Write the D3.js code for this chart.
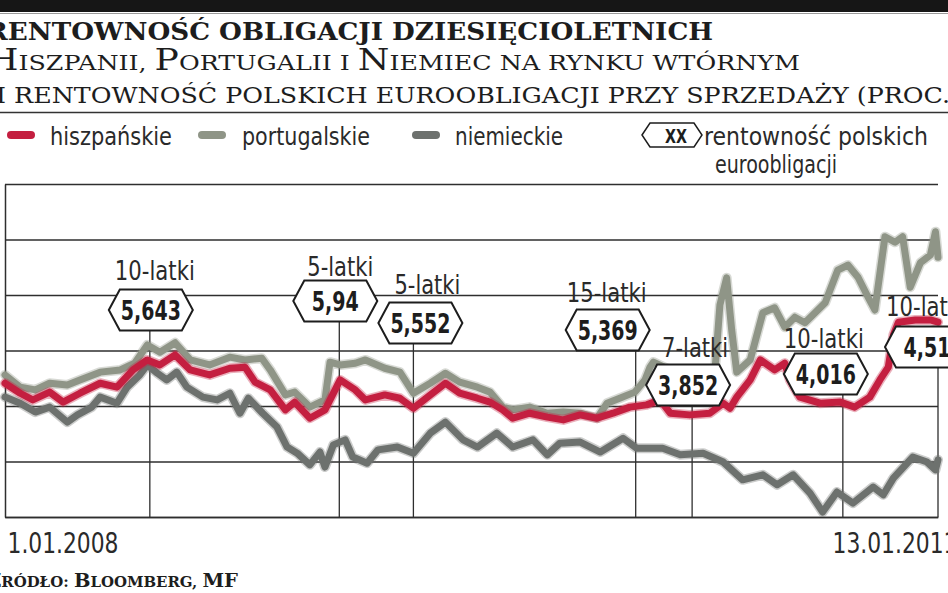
<!DOCTYPE html>
<html>
<head>
<meta charset="utf-8">
<script src="https://cdn.jsdelivr.net/npm/d3@7"></script>
<style>
  html, body { margin: 0; padding: 0; background: #fff; overflow: hidden; }
  svg { display: block; }
  .serif { font-family: "DejaVu Serif", "Liberation Serif", serif; }
  .sans { font-family: "DejaVu Sans", "Liberation Sans", sans-serif; font-stretch: condensed; }
</style>
</head>
<body>
<svg id="chart" width="948" height="593"></svg>
<script>
const red = "#c41f40";
const olive = "#8f9587";
const darkGray = "#6d716e";
const ink = "#1d1d1d";

// 10-year yields, %
const spanish = [
  ["2008-01-01", 4.41], ["2008-01-19", 4.23], ["2008-02-03", 4.11], ["2008-02-23", 4.25],
  ["2008-03-10", 4.07], ["2008-03-30", 4.23], ["2008-04-23", 4.41], ["2008-05-13", 4.34],
  ["2008-06-01", 4.65], ["2008-06-18", 4.83], ["2008-07-03", 4.74], ["2008-07-21", 4.92],
  ["2008-08-08", 4.65], ["2008-08-31", 4.56], ["2008-09-24", 4.68], ["2008-10-12", 4.70],
  ["2008-10-24", 4.43], ["2008-11-11", 4.29], ["2008-11-29", 3.93], ["2008-12-10", 4.07],
  ["2008-12-28", 3.78], ["2009-01-15", 3.93], ["2009-02-02", 4.47], ["2009-02-20", 4.29],
  ["2009-03-04", 4.11], ["2009-03-27", 4.20], ["2009-04-14", 4.14], ["2009-04-30", 3.96],
  ["2009-05-20", 4.20], ["2009-06-07", 4.41], ["2009-06-24", 4.23], ["2009-07-15", 4.14],
  ["2009-07-30", 4.07], ["2009-08-14", 3.93], ["2009-08-26", 3.78], ["2009-09-15", 3.87],
  ["2009-10-06", 3.80], ["2009-10-25", 3.75], ["2009-11-14", 3.84], ["2009-12-04", 3.78],
  ["2009-12-23", 3.87], ["2010-01-12", 3.98], ["2010-02-01", 4.02], ["2010-02-17", 4.11],
  ["2010-03-01", 3.87], ["2010-03-24", 3.84], ["2010-04-17", 3.87], ["2010-05-03", 4.05],
  ["2010-05-11", 3.96], ["2010-05-19", 4.16], ["2010-06-04", 4.47], ["2010-06-16", 4.83],
  ["2010-07-03", 4.65], ["2010-07-15", 4.77], ["2010-07-21", 4.47], ["2010-08-02", 4.16],
  ["2010-08-26", 4.05], ["2010-09-19", 4.07], ["2010-10-06", 3.98], ["2010-10-24", 4.16],
  ["2010-11-05", 4.47], ["2010-11-15", 4.70], ["2010-11-21", 5.28], ["2010-11-27", 5.51],
  ["2010-12-17", 5.55], ["2011-01-04", 5.55], ["2011-01-13", 5.51]
];

const portuguese = [
  ["2008-01-01", 4.56], ["2008-01-19", 4.34], ["2008-02-06", 4.29], ["2008-02-23", 4.41],
  ["2008-03-15", 4.38], ["2008-03-30", 4.47], ["2008-04-23", 4.61], ["2008-05-17", 4.65],
  ["2008-06-03", 4.77], ["2008-06-18", 5.10], ["2008-07-03", 4.97], ["2008-07-21", 5.14],
  ["2008-08-08", 4.83], ["2008-08-31", 4.74], ["2008-09-24", 4.88], ["2008-10-12", 4.83],
  ["2008-11-01", 4.86], ["2008-11-11", 4.65], ["2008-11-29", 4.20], ["2008-12-10", 4.25],
  ["2008-12-28", 3.98], ["2009-01-15", 4.11], ["2009-01-21", 4.79], ["2009-02-02", 4.74],
  ["2009-02-20", 4.77], ["2009-03-04", 4.83], ["2009-03-27", 4.68], ["2009-04-14", 4.61],
  ["2009-04-30", 4.23], ["2009-05-20", 4.41], ["2009-06-07", 4.59], ["2009-06-24", 4.43],
  ["2009-07-15", 4.34], ["2009-07-30", 4.25], ["2009-08-14", 3.98], ["2009-08-26", 3.93],
  ["2009-09-15", 3.98], ["2009-10-06", 3.87], ["2009-10-25", 3.89], ["2009-11-14", 3.87],
  ["2009-12-04", 3.78], ["2009-12-16", 4.05], ["2009-12-31", 4.14], ["2010-01-18", 4.25],
  ["2010-01-30", 4.47], ["2010-02-05", 4.70], ["2010-02-09", 4.79], ["2010-03-01", 4.65],
  ["2010-03-24", 4.59], ["2010-04-17", 4.65], ["2010-04-23", 4.61], ["2010-04-29", 5.82],
  ["2010-05-07", 6.31], ["2010-05-13", 5.37], ["2010-05-19", 4.61], ["2010-06-04", 4.83],
  ["2010-06-19", 5.68], ["2010-07-03", 5.77], ["2010-07-15", 5.42], ["2010-07-27", 5.60],
  ["2010-08-08", 5.50], ["2010-08-20", 5.68], ["2010-09-01", 5.86], ["2010-09-16", 6.45],
  ["2010-09-28", 6.54], ["2010-10-10", 6.32], ["2010-10-22", 5.96], ["2010-10-30", 5.73],
  ["2010-11-11", 7.05], ["2010-11-23", 6.95], ["2010-12-02", 7.05], ["2010-12-11", 6.14],
  ["2010-12-23", 6.58], ["2011-01-04", 6.72], ["2011-01-10", 7.14], ["2011-01-13", 6.68]
];

const german = [
  ["2008-01-01", 4.16], ["2008-01-19", 4.05], ["2008-02-06", 3.89], ["2008-02-23", 3.98],
  ["2008-03-15", 3.71], ["2008-03-27", 3.84], ["2008-04-13", 3.98], ["2008-04-23", 4.16],
  ["2008-05-13", 4.05], ["2008-05-25", 4.34], ["2008-06-09", 4.56], ["2008-06-18", 4.74],
  ["2008-06-30", 4.59], ["2008-07-11", 4.47], ["2008-07-23", 4.61], ["2008-08-04", 4.34],
  ["2008-08-23", 4.16], ["2008-09-09", 4.11], ["2008-09-24", 4.23], ["2008-10-06", 3.87],
  ["2008-10-16", 4.14], ["2008-11-02", 3.87], ["2008-11-19", 3.62], ["2008-12-01", 3.26],
  ["2008-12-13", 3.15], ["2008-12-28", 2.94], ["2009-01-09", 3.17], ["2009-01-15", 2.90],
  ["2009-01-25", 3.30], ["2009-02-08", 3.39], ["2009-02-17", 3.08], ["2009-03-06", 2.97],
  ["2009-03-19", 3.21], ["2009-04-11", 3.26], ["2009-04-30", 3.15], ["2009-05-20", 3.51],
  ["2009-06-07", 3.71], ["2009-06-28", 3.39], ["2009-07-15", 3.26], ["2009-08-07", 3.51],
  ["2009-08-26", 3.26], ["2009-09-19", 3.39], ["2009-10-06", 3.12], ["2009-10-21", 3.33],
  ["2009-11-14", 3.35], ["2009-12-08", 3.17], ["2010-01-04", 3.42], ["2010-01-20", 3.24],
  ["2010-02-20", 3.24], ["2010-03-13", 3.12], ["2010-04-09", 3.15], ["2010-05-03", 2.99],
  ["2010-05-26", 2.67], ["2010-06-19", 2.76], ["2010-07-06", 2.58], ["2010-07-25", 2.76],
  ["2010-08-14", 2.43], ["2010-08-29", 2.09], ["2010-09-15", 2.45], ["2010-10-04", 2.25],
  ["2010-10-28", 2.54], ["2010-11-09", 2.40], ["2010-11-21", 2.70], ["2010-12-14", 3.08],
  ["2010-12-31", 2.99], ["2011-01-10", 2.85], ["2011-01-13", 3.03]
];

// Polish eurobond sales
const bondDates = ["2008-06-21", "2009-02-01", "2009-04-30", "2010-01-19", "2010-03-27", "2010-09-22", "2011-01-13"];
const bondTenors = ["10-latki", "5-latki", "5-latki", "15-latki", "7-latki", "10-latki", "10-latki"];
const bondYields = ["5,643", "5,94", "5,552", "5,369", "3,852", "4,016", "4,51"];

const seriesNames = ["hiszpańskie", "portugalskie", "niemieckie"];
const yTicks = [2, 3, 4, 5, 6, 7, 8];
const dateRange = ["2008-01-01", "2011-01-13"];

// label placement (hexagon centre: dx from the sale line, y in px; tenor text offset)
const hexLayout = [
  { dx: 1, cy: 310, tdx: 4, tdy: -10 },
  { dx: -4, cy: 301, tdx: 5, tdy: -5 },
  { dx: 7, cy: 323, tdx: 7, tdy: -9 },
  { dx: -28, cy: 330, tdx: -1, tdy: -8 },
  { dx: -4, cy: 385, tdx: 7, tdy: -8 },
  { dx: -17, cy: 374, tdx: -2, tdy: -6 },
  { dx: -11, cy: 347, tdx: -1, tdy: -11 }
];

const parse = d3.timeParse("%Y-%m-%d");
const svg = d3.select("#chart");

const plotLeft = 5, plotRight = 938, plotTop = 184, plotBottom = 517;

const x = d3.scaleTime().domain(dateRange.map(parse)).range([plotLeft, plotRight]);
const y = d3.scaleLinear().domain([2, 8]).range([plotBottom, plotTop]);

// header
svg.append("rect").attr("x", 0).attr("y", 0).attr("width", 948).attr("height", 12).attr("fill", "#161616");
svg.append("line").attr("x1", 0).attr("x2", 948).attr("y1", 13.5).attr("y2", 13.5).attr("stroke", "#9a9a9a").attr("stroke-width", 1);

svg.append("text").attr("class", "serif")
  .attr("x", -14).attr("y", 40)
  .attr("font-size", 25).attr("font-weight", "bold").attr("fill", ink)
  .attr("textLength", 727).attr("lengthAdjust", "spacingAndGlyphs")
  .text("RENTOWNOŚĆ OBLIGACJI DZIESIĘCIOLETNICH");

const line2 = [["H", 30], ["ISZPANII,  ", 21], ["P", 30], ["ORTUGALII I ", 21], ["N", 30], ["IEMIEC NA RYNKU WTÓRNYM", 21]];
const t2 = svg.append("text").attr("class", "serif")
  .attr("x", -13).attr("y", 70).attr("fill", ink)
  .attr("textLength", 813).attr("lengthAdjust", "spacingAndGlyphs");
line2.forEach(([s, size]) => t2.append("tspan").attr("font-size", size).text(s));

svg.append("text").attr("class", "serif")
  .attr("x", -4).attr("y", 103)
  .attr("font-size", 23).attr("fill", ink)
  .attr("textLength", 964).attr("lengthAdjust", "spacingAndGlyphs")
  .text("I RENTOWNOŚĆ POLSKICH EUROOBLIGACJI PRZY SPRZEDAŻY (PROC.)");

svg.append("line").attr("x1", 0).attr("x2", 948).attr("y1", 112.5).attr("y2", 112.5).attr("stroke", "#333").attr("stroke-width", 1.5);

// legend
const colors = [red, olive, darkGray];
const legendLayout = [
  { sx: 11, tx: 50, tl: 122 },
  { sx: 202, tx: 242, tl: 128 },
  { sx: 416, tx: 455, tl: 108 }
];
seriesNames.forEach((name, i) => {
  const l = legendLayout[i];
  svg.append("line")
    .attr("x1", l.sx).attr("x2", l.sx + 20).attr("y1", 135).attr("y2", 135)
    .attr("stroke", colors[i]).attr("stroke-width", 8).attr("stroke-linecap", "round");
  svg.append("text").attr("class", "sans")
    .attr("x", l.tx).attr("y", 145).attr("font-size", 24).attr("fill", "#2a2a2a")
    .attr("textLength", l.tl).attr("lengthAdjust", "spacingAndGlyphs")
    .text(name);
});

const hexPath = (w, h, inset) => {
  const hw = w / 2, hh = h / 2;
  return `M${-hw},0 L${-hw + inset},${-hh} L${hw - inset},${-hh} L${hw},0 L${hw - inset},${hh} L${-hw + inset},${hh} Z`;
};

const legendHex = svg.append("g").attr("transform", "translate(672,135)");
legendHex.append("path").attr("d", hexPath(60, 24, 8)).attr("fill", "#fff").attr("stroke", ink).attr("stroke-width", 1.5);
legendHex.append("text").attr("class", "sans").attr("x", 4).attr("y", 8)
  .attr("text-anchor", "middle").attr("font-size", 20).attr("font-weight", "bold").attr("fill", ink)
  .attr("textLength", 22).attr("lengthAdjust", "spacingAndGlyphs").text("XX");
svg.append("text").attr("class", "sans")
  .attr("x", 704).attr("y", 145).attr("font-size", 24).attr("fill", "#2a2a2a")
  .attr("textLength", 224).attr("lengthAdjust", "spacingAndGlyphs")
  .text("rentowność polskich");
svg.append("text").attr("class", "sans")
  .attr("x", 715).attr("y", 173).attr("font-size", 24).attr("fill", "#2a2a2a")
  .attr("textLength", 122).attr("lengthAdjust", "spacingAndGlyphs")
  .text("euroobligacji");

// grid
const grid = svg.append("g")
  .attr("transform", `translate(${plotLeft},0)`)
  .call(d3.axisLeft(y).tickValues(yTicks).tickSize(-(plotRight - plotLeft)).tickSizeOuter(0).tickFormat(""));
grid.selectAll(".tick line").attr("stroke", "#2e2e2e").attr("stroke-width", 1.3);
grid.select(".domain").attr("stroke", "#2e2e2e").attr("stroke-width", 1.5);

// x axis
const fmt = d3.timeFormat("%-d.%m.%Y");
const xAxis = svg.append("g")
  .attr("transform", `translate(0,${plotBottom})`)
  .call(d3.axisBottom(x).tickValues(dateRange.map(parse)).tickSize(0).tickSizeOuter(0).tickFormat(fmt));
xAxis.select(".domain").attr("stroke", "#2e2e2e").attr("stroke-width", 1.5);
xAxis.selectAll(".tick text")
  .attr("class", "sans")
  .attr("font-size", 28).attr("fill", "#2a2a2a")
  .attr("y", 36).attr("dy", 0)
  .attr("text-anchor", (d, i) => i === 0 ? "start" : "end")
  .attr("dx", (d, i) => i === 0 ? 2 : 19)
  .attr("textLength", (d, i) => i === 0 ? 111 : 125)
  .attr("lengthAdjust", "spacingAndGlyphs");

// sale lines
const bonds = bondDates.map((d, i) => ({ date: parse(d), tenor: bondTenors[i], value: bondYields[i], lay: hexLayout[i] }));
const hexW = 84, hexH = 41;

svg.append("g").selectAll("line")
  .data(bonds).join("line")
  .attr("x1", d => x(d.date)).attr("x2", d => x(d.date))
  .attr("y1", d => d.lay.cy + hexH / 2).attr("y2", y(2))
  .attr("stroke", "#2e2e2e").attr("stroke-width", 1.3);

// series
const line = d3.line()
  .x(d => x(parse(d[0])))
  .y(d => y(d[1]))
  .curve(d3.curveLinear);

const series = [
  { data: portuguese, color: olive },
  { data: german, color: darkGray },
  { data: spanish, color: red }
];
const lines = svg.append("g");
series.forEach(s => {
  lines.append("path").datum(s.data).attr("d", line)
    .attr("fill", "none").attr("stroke", s.color).attr("stroke-opacity", 0.35)
    .attr("stroke-width", 10).attr("stroke-linejoin", "round").attr("stroke-linecap", "round");
  lines.append("path").datum(s.data).attr("d", line)
    .attr("fill", "none").attr("stroke", s.color)
    .attr("stroke-width", 7).attr("stroke-linejoin", "round").attr("stroke-linecap", "round");
});

// hexagon labels
const labels = svg.append("g").selectAll("g")
  .data(bonds).join("g")
  .attr("transform", d => `translate(${x(d.date) + d.lay.dx},${d.lay.cy})`);

labels.append("path")
  .attr("d", hexPath(hexW, hexH, 11))
  .attr("fill", "#fff").attr("stroke", ink).attr("stroke-width", 2);

labels.append("text").attr("class", "sans")
  .attr("y", 10).attr("text-anchor", "middle")
  .attr("font-size", 27).attr("font-weight", "bold").attr("fill", ink)
  .attr("textLength", d => d.value.length === 4 ? 47 : 60)
  .attr("lengthAdjust", "spacingAndGlyphs")
  .text(d => d.value);

labels.append("text").attr("class", "sans")
  .attr("x", d => d.lay.tdx).attr("y", d => -hexH / 2 + d.lay.tdy)
  .attr("text-anchor", "middle")
  .attr("font-size", 26).attr("fill", "#2a2a2a")
  .attr("textLength", d => d.tenor.length === 8 ? 80 : 66)
  .attr("lengthAdjust", "spacingAndGlyphs")
  .text(d => d.tenor);

// source
const src = [["Ź", 19], ["RÓDŁO: ", 14.5], ["B", 19], ["LOOMBERG, ", 14.5], ["MF", 19]];
const ts = svg.append("text").attr("class", "serif")
  .attr("x", -13).attr("y", 587).attr("font-weight", "bold").attr("fill", ink)
  .attr("textLength", 251).attr("lengthAdjust", "spacingAndGlyphs");
src.forEach(([s, size]) => ts.append("tspan").attr("font-size", size).text(s));
</script>
</body>
</html>
